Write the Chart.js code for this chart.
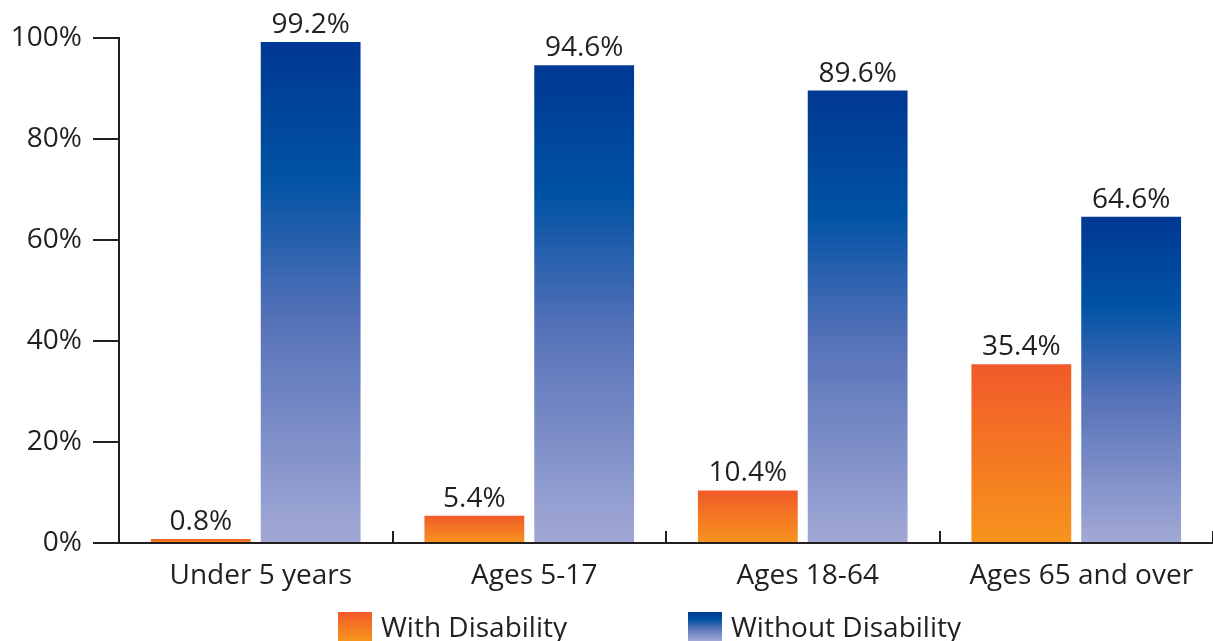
<!DOCTYPE html>
<html><head><meta charset="utf-8">
<script src="https://cdn.jsdelivr.net/npm/chart.js@4"></script>
<style>html,body{margin:0;padding:0;background:#fff;} #wrap{width:1213px;height:641px;position:relative}</style>
</head><body><div id="wrap"><canvas id="c"></canvas></div>
<script>
const categories = ['Under 5 years', 'Ages 5-17', 'Ages 18-64', 'Ages 65 and over'];
const withDisability = [0.8, 5.4, 10.4, 35.4];
const withoutDisability = [99.2, 94.6, 89.6, 64.6];
const seriesLabels = ['With Disability', 'Without Disability'];
const yTickValues = [0, 20, 40, 60, 80, 100];

const FONT = "'Open Sans', 'Noto Sans', sans-serif";
const FS = 28;
const TEXT = '#231F20';
const orangeStops = [[0, '#F15A29'], [1, '#F7941D']];
const blueStops = [[0, '#003893'], [0.27, '#0052A4'], [0.55, '#5571B8'], [1, '#A2A9D6']];

function makeGrad(ctx, top, bottom, stops) {
  const g = ctx.createLinearGradient(0, top, 0, bottom);
  stops.forEach(s => g.addColorStop(s[0], s[1]));
  return g;
}
function barFill(stops) {
  return function (c) {
    const chart = c.chart;
    const y = chart.scales && chart.scales.y;
    if (!y || c.type !== 'data') return stops[stops.length - 1][1];
    const top = y.getPixelForValue(c.raw), bot = y.getPixelForValue(0);
    if (!isFinite(top) || !isFinite(bot) || bot - top < 1) return stops[0][1];
    return makeGrad(chart.ctx, top, bot, stops);
  };
}

const valueLabels = {
  id: 'valueLabels',
  afterDatasetsDraw(chart) {
    const ctx = chart.ctx;
    ctx.save();
    ctx.font = FS + 'px ' + FONT;
    ctx.fillStyle = TEXT;
    ctx.textAlign = 'center';
    ctx.textBaseline = 'alphabetic';
    chart.data.datasets.forEach((ds, i) => {
      chart.getDatasetMeta(i).data.forEach((bar, j) => {
        ctx.fillText(ds.data[j].toFixed(1) + '%', bar.x, bar.y - 9);
      });
    });
    ctx.restore();
  }
};

const bottomLegend = {
  id: 'bottomLegend',
  afterDraw(chart) {
    const ctx = chart.ctx;
    const items = [
      {text: chart.data.datasets[0].label, stops: orangeStops, x: 338},
      {text: chart.data.datasets[1].label, stops: blueStops, x: 688}
    ];
    const top = 612, h = 29, w = 34;
    ctx.save();
    ctx.font = FS + 'px ' + FONT;
    ctx.textBaseline = 'alphabetic';
    ctx.textAlign = 'left';
    items.forEach(it => {
      ctx.fillStyle = makeGrad(ctx, top, top + h, it.stops);
      ctx.fillRect(it.x, top, w, h);
      ctx.fillStyle = TEXT;
      ctx.fillText(it.text, it.x + w + 9, 637);
    });
    ctx.restore();
  }
};

new Chart(document.getElementById('c'), {
  type: 'bar',
  data: {
    labels: categories,
    datasets: [
      {label: seriesLabels[0], data: withDisability, backgroundColor: barFill(orangeStops),
       categoryPercentage: 0.803, barPercentage: 0.909},
      {label: seriesLabels[1], data: withoutDisability, backgroundColor: barFill(blueStops),
       categoryPercentage: 0.803, barPercentage: 0.909}
    ]
  },
  options: {
    responsive: true,
    maintainAspectRatio: false,
    animation: false,
    layout: {padding: {top: 38, right: -2, bottom: 0, left: 0}},
    plugins: {legend: {display: false}, tooltip: {enabled: false}},
    scales: {
      x: {
        afterFit(s) { s.height = 98; s.paddingRight = 0; s.paddingLeft = 0; },
        grid: {offset: true, drawOnChartArea: false, drawTicks: true, tickLength: -12, lineWidth: 2,
               color: c => (c.index === categories.length ? 'rgba(0,0,0,0)' : TEXT)},
        border: {display: true, color: TEXT, width: 2},
        ticks: {color: TEXT, font: {family: FONT, size: FS}, padding: 28, maxRotation: 0, labelOffset: 5}
      },
      y: {
        min: 0, max: 100,
        afterFit(s) { s.width = 119; },
        afterBuildTicks(s) { s.ticks = yTickValues.map(v => ({value: v})); },
        grid: {drawOnChartArea: false, drawTicks: true, tickLength: 26, lineWidth: 2, color: TEXT},
        border: {display: true, color: TEXT, width: 2},
        ticks: {color: TEXT, font: {family: FONT, size: FS}, padding: 11, callback: v => v + '%'}
      }
    }
  },
  plugins: [valueLabels, bottomLegend]
});
</script>
</body></html>
